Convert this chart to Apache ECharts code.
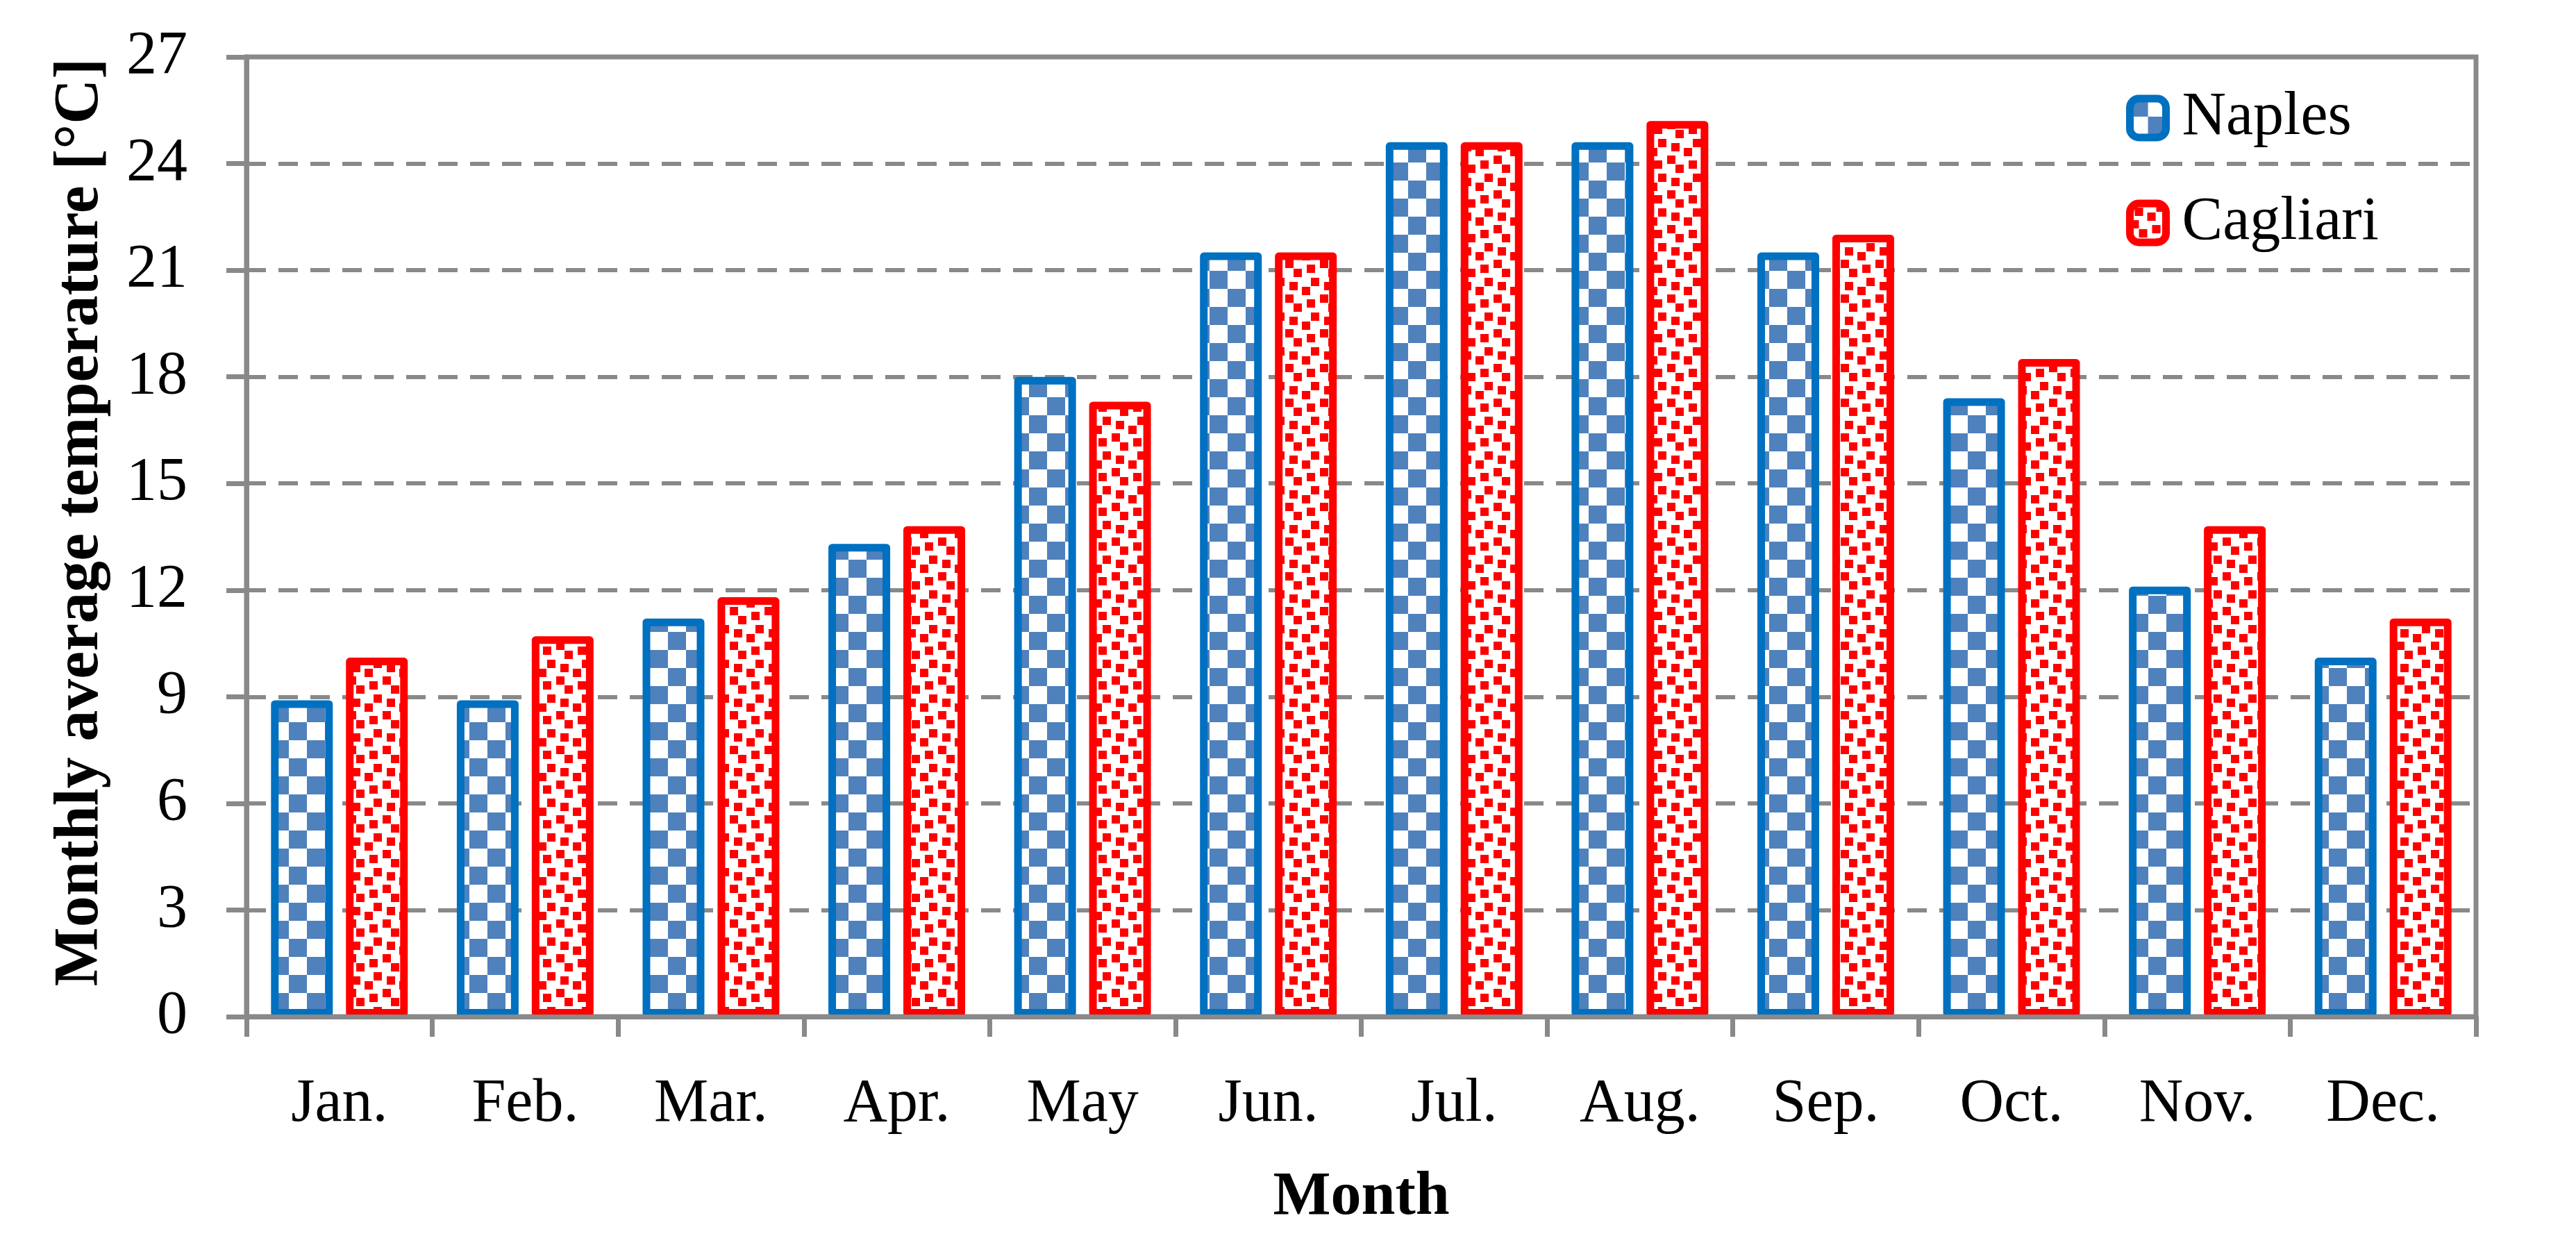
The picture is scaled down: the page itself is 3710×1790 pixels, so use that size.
<!DOCTYPE html>
<html><head><meta charset="utf-8">
<script src="https://cdn.jsdelivr.net/npm/echarts@6/dist/echarts.min.js"></script>
<style>html,body{margin:0;padding:0;background:#fff}#c{width:3710px;height:1790px}</style>
</head><body><div id="c"></div>
<script>
const months = ['Jan.', 'Feb.', 'Mar.', 'Apr.', 'May', 'Jun.', 'Jul.', 'Aug.', 'Sep.', 'Oct.', 'Nov.', 'Dec.'];
const naples = [8.9, 8.9, 11.2, 13.3, 18.0, 21.5, 24.6, 24.6, 21.5, 17.4, 12.1, 10.1];
const cagliari = [10.1, 10.7, 11.8, 13.8, 17.3, 21.5, 24.6, 25.2, 22.0, 18.5, 13.8, 11.2];
const yMin = 0, yMax = 27, yStep = 3;
const seriesNames = ['Naples', 'Cagliari'];

const FONT = '"Liberation Serif", "Times New Roman", serif';
const GRAY = '#898989';

function checkerCanvas() {
  const s = 26;
  const c = document.createElement('canvas');
  c.width = 2 * s; c.height = 2 * s;
  const g = c.getContext('2d');
  g.fillStyle = '#ffffff'; g.fillRect(0, 0, 2 * s, 2 * s);
  g.fillStyle = '#4F81BD';
  g.fillRect(0, 0, s, s);
  g.fillRect(s, s, s, s);
  return c;
}
function dotCanvas() {
  const c = document.createElement('canvas');
  c.width = 50; c.height = 50;
  const g = c.getContext('2d');
  g.fillStyle = '#ffffff'; g.fillRect(0, 0, 50, 50);
  g.fillStyle = '#FF0000';
  const pts = [[7, 6], [38, 0], [25, 13], [1, 24], [13, 37], [32, 31]];
  pts.forEach(p => g.fillRect(p[0], p[1], 12, 12));
  return c;
}
const blueFill = { image: checkerCanvas(), repeat: 'repeat' };
const redFill = { image: dotCanvas(), repeat: 'repeat' };

const chart = echarts.init(document.getElementById('c'), null, { renderer: 'canvas' });
const option = {
  backgroundColor: '#ffffff',
  animation: false,
  textStyle: { fontFamily: FONT },
  grid: {
    left: 355, top: 82, right: 144, bottom: 326,
    show: true, borderColor: GRAY, borderWidth: 7, backgroundColor: 'transparent'
  },
  legend: {
    orient: 'vertical',
    left: 3062, top: 126,
    padding: 0,
    itemWidth: 52, itemHeight: 56, itemGap: 63,
    icon: 'roundRect',
    textStyle: { fontFamily: FONT, fontSize: 88, color: '#000', lineHeight: 88, padding: [0, 0, 0, 18] },
    data: [
      { name: seriesNames[0], itemStyle: { color: blueFill, borderColor: '#0070C0', borderWidth: 11 } },
      { name: seriesNames[1], itemStyle: { color: redFill, borderColor: '#FF0000', borderWidth: 11 } }
    ]
  },
  xAxis: {
    type: 'category',
    data: months,
    z: 5,
    name: 'Month',
    nameLocation: 'middle',
    nameGap: 217,
    nameTextStyle: { fontFamily: FONT, fontSize: 88, fontWeight: 'bold', color: '#000' },
    axisLine: { show: true, lineStyle: { color: GRAY, width: 7 } },
    axisTick: { show: true, inside: false, length: 29, interval: 0, alignWithLabel: false, lineStyle: { color: GRAY, width: 7 } },
    axisLabel: { fontFamily: FONT, fontSize: 88, color: '#000', margin: 83, interval: 0 },
    splitLine: { show: false }
  },
  yAxis: {
    type: 'value',
    min: yMin, max: yMax, interval: yStep,
    name: 'Monthly average temperature [°C]',
    nameLocation: 'middle',
    nameGap: 193,
    nameTextStyle: { fontFamily: FONT, fontSize: 90, fontWeight: 'bold', color: '#000', padding: [0, 0, 0, 42] },
    axisLine: { show: true, lineStyle: { color: GRAY, width: 7 } },
    axisTick: { show: true, inside: false, length: 29, lineStyle: { color: GRAY, width: 7 } },
    axisLabel: { fontFamily: FONT, fontSize: 88, color: '#000', margin: 85 },
    splitLine: { show: true, lineStyle: { color: GRAY, width: 6, type: [28, 18] } }
  },
  series: [
    {
      name: seriesNames[0], type: 'bar', data: naples,
      barWidth: 89, barGap: '21.3%',
      itemStyle: { color: blueFill, borderColor: '#0070C0', borderWidth: 11, borderJoin: 'round' }
    },
    {
      name: seriesNames[1], type: 'bar', data: cagliari,
      barWidth: 89, barGap: '21.3%',
      itemStyle: { color: redFill, borderColor: '#FF0000', borderWidth: 11, borderJoin: 'round' }
    }
  ]
};
chart.setOption(option);
</script>
</body></html>
